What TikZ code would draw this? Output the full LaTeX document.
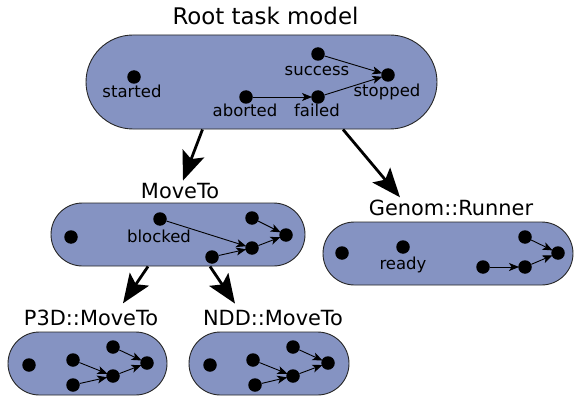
\documentclass[tikz,border=0pt]{standalone}
\usepackage{fontspec}
\setmainfont{DejaVu Sans}
\usetikzlibrary{arrows.meta,shapes.misc}
\definecolor{taskblue}{RGB}{133,147,194}
\tikzset{
	task/.style={shape=rounded rectangle, draw=black!85, fill=taskblue, line width=0.9pt, inner sep=0pt},
	ev/.style={circle, fill=black, inner sep=0pt, minimum size=13.5pt},
	evname/.style={anchor=base, inner sep=0pt, font=\fontsize{16.5}{18}\selectfont},
	tname/.style={anchor=base, inner sep=0pt, font=\fontsize{20.9}{24}\selectfont},
	link/.style={-{Stealth[length=10pt,width=8pt,inset=2.5pt]}, line width=0.9pt, shorten >=-1pt},
	sub/.style={-{Stealth[length=29pt,width=23pt,inset=6pt]}, line width=2.8pt}
}
\begin{document}
\begin{tikzpicture}[x=1pt, y=-1pt]
		%%%%% START %%%%%
		\useasboundingbox (0,0) rectangle (575,401);
		
		% root task model
		\node[task, minimum width=351pt, minimum height=94pt] (root) at (261.5, 82) {};
		\node[tname, font=\fontsize{22.9}{26}\selectfont] (rootT) at (265.5, 25) {Root task model};
		\node[ev] (started) at (134, 77) {};
		\node[evname] (startedL) at (132, 98) {started};
		\node[ev] (success) at (318, 54) {};
		\node[evname] (successL) at (317, 76) {success};
		\node[ev] (stopped) at (388, 75) {};
		\node[evname] (stoppedL) at (387, 97) {stopped};
		\node[ev] (aborted) at (246, 97) {};
		\node[evname] (abortedL) at (245, 117) {aborted};
		\node[ev] (failed) at (318, 97) {};
		\node[evname] (failedL) at (317, 117) {failed};
		\draw[link] (aborted) -- (failed);
		\draw[link] (success) -- (stopped);
		\draw[link] (failed) -- (stopped);
		
		% MoveTo
		\node[task, minimum width=254pt, minimum height=63pt] (moveto) at (178, 234.5) {};
		\node[tname] (movetoT) at (180, 198) {MoveTo};
		\node[ev] (mvA) at (71, 237) {};
		\node[ev] (mvB) at (160, 219) {};
		\node[evname] (mvBL) at (159, 242) {blocked};
		\node[ev] (mvC) at (252, 218) {};
		\node[ev] (mvD) at (286, 235) {};
		\node[ev] (mvE) at (252, 248) {};
		\node[ev] (mvF) at (212, 257) {};
		\draw[link] (mvB) -- (mvE);
		\draw[link] (mvF) -- (mvE);
		\draw[link] (mvC) -- (mvD);
		\draw[link] (mvE) -- (mvD);
		
		% Genom::Runner
		\node[task, minimum width=250pt, minimum height=63pt] (genom) at (448, 253.5) {};
		\node[tname] (genomT) at (451, 215) {Genom::Runner};
		\node[ev] (gnA) at (342, 253) {};
		\node[ev] (gnB) at (403, 247) {};
		\node[evname] (gnBL) at (403, 269) {ready};
		\node[ev] (gnC) at (525, 237) {};
		\node[ev] (gnD) at (558, 253) {};
		\node[ev] (gnE) at (525, 267) {};
		\node[ev] (gnF) at (483, 267) {};
		\draw[link] (gnF) -- (gnE);
		\draw[link] (gnC) -- (gnD);
		\draw[link] (gnE) -- (gnD);
		
		% P3D::MoveTo
		\node[task, minimum width=159pt, minimum height=63pt] (p3d) at (87.5, 363.5) {};
		\node[tname] (p3dT) at (91, 325) {P3D::MoveTo};
		\node[ev] (pA) at (29, 365) {};
		\node[ev] (pB) at (73, 360) {};
		\node[ev] (pC) at (113, 347) {};
		\node[ev] (pD) at (147, 363) {};
		\node[ev] (pE) at (113, 376) {};
		\node[ev] (pF) at (73, 385) {};
		\draw[link] (pB) -- (pE);
		\draw[link] (pF) -- (pE);
		\draw[link] (pC) -- (pD);
		\draw[link] (pE) -- (pD);
		
		% NDD::MoveTo
		\node[task, minimum width=160pt, minimum height=63pt] (ndd) at (269, 363.5) {};
		\node[tname] (nddT) at (273, 325) {NDD::MoveTo};
		\node[ev] (nA) at (210, 365) {};
		\node[ev] (nB) at (253, 360) {};
		\node[ev] (nC) at (293, 347) {};
		\node[ev] (nD) at (328, 363) {};
		\node[ev] (nE) at (293, 376) {};
		\node[ev] (nF) at (255, 385) {};
		\draw[link] (nB) -- (nE);
		\draw[link] (nF) -- (nE);
		\draw[link] (nC) -- (nD);
		\draw[link] (nE) -- (nD);
		
		% subtask arrows
		\draw[sub] ([xshift=-59pt]root.south) -- ([xshift=3pt, yshift=2pt]movetoT.north);
		\draw[sub] ([xshift=81.5pt]root.south) -- ([xshift=-51pt, yshift=2pt]genomT.north);
		\draw[sub] ([xshift=-30pt]moveto.south) -- ([xshift=32pt, yshift=6pt]p3dT.north);
		\draw[sub] ([xshift=32pt]moveto.south) -- ([xshift=-38pt, yshift=6pt]nddT.north);
		%%%%% END %%%%%
	\end{tikzpicture}
\end{document}
